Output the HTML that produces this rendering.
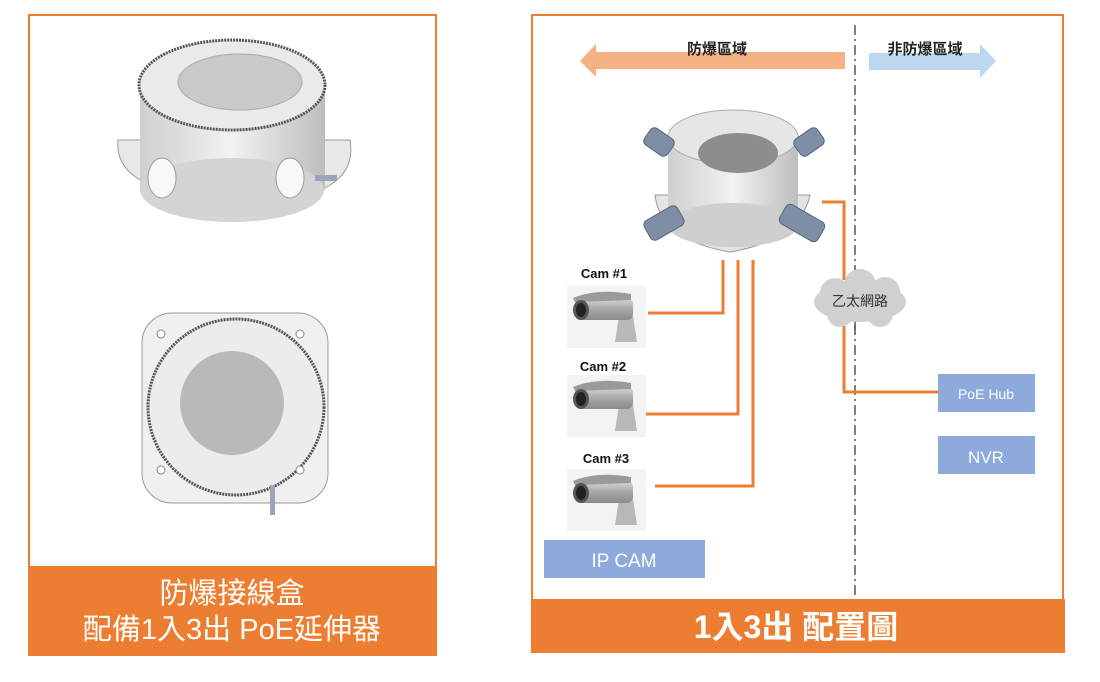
<!DOCTYPE html>
<html><head><meta charset="utf-8"><style>
html,body{margin:0;padding:0;background:#fff;}
svg{display:block;font-family:"Liberation Sans","Noto Sans CJK TC",sans-serif;}
</style></head><body>
<svg width="1100" height="682" viewBox="0 0 1100 682" xmlns="http://www.w3.org/2000/svg">
<defs>
<linearGradient id="metal" x1="0" x2="1">
<stop offset="0" stop-color="#cfcfcf"/><stop offset="0.5" stop-color="#f2f2f2"/><stop offset="1" stop-color="#bdbdbd"/>
</linearGradient>
<linearGradient id="cam" x1="0" y1="0" x2="0" y2="1">
<stop offset="0" stop-color="#d8d8d8"/><stop offset="0.5" stop-color="#a8a8a8"/><stop offset="1" stop-color="#8a8a8a"/>
</linearGradient>
<g id="camera">
<rect x="0" y="0" width="79" height="62" fill="#f3f3f3"/>
<path d="M52 30 L66 30 L70 56 L48 56 Z" fill="#b8b8b8"/>
<rect x="8" y="12" width="58" height="22" rx="6" fill="url(#cam)"/>
<path d="M6 12 Q30 2 64 8 L64 14 L8 16 Z" fill="#9a9a9a"/>
<ellipse cx="14" cy="24" rx="8" ry="10" fill="#555"/>
<ellipse cx="14" cy="24" rx="5" ry="7" fill="#222"/>
</g>
</defs>

<!-- LEFT PANEL -->
<rect x="29" y="15" width="407" height="553" fill="#fff" stroke="#ED7D31" stroke-width="2"/>
<rect x="28" y="566" width="409" height="90" fill="#ED7D31"/>
<text x="232" y="603" fill="#fff" font-size="29" text-anchor="middle">防爆接線盒</text>
<text x="232" y="639" fill="#fff" font-size="29" text-anchor="middle">配備1入3出 PoE延伸器</text>

<!-- top box image -->
<g>
<path d="M118 140 Q115 170 150 185 L190 215 Q230 228 280 215 L330 185 Q355 170 350 140 Z" fill="#e8e8e8" stroke="#999"/>
<rect x="140" y="85" width="185" height="105" fill="url(#metal)"/>
<ellipse cx="232" cy="190" rx="92" ry="32" fill="#d4d4d4"/>
<ellipse cx="232" cy="85" rx="93" ry="45" fill="#eaeaea" stroke="#555" stroke-width="3" stroke-dasharray="2 1"/>
<ellipse cx="240" cy="82" rx="62" ry="28" fill="#c9c9c9" stroke="#aaa"/>
<ellipse cx="162" cy="178" rx="14" ry="20" fill="#f8f8f8" stroke="#999"/>
<ellipse cx="290" cy="178" rx="14" ry="20" fill="#f8f8f8" stroke="#999"/>
<rect x="315" y="175" width="22" height="6" fill="#9aa6b8"/>
</g>
<!-- bottom box image -->
<g>
<rect x="142" y="313" width="186" height="190" rx="30" fill="#f0f0f0" stroke="#999"/>
<circle cx="236" cy="407" r="88" fill="#ececec" stroke="#555" stroke-width="3" stroke-dasharray="2 1"/>
<circle cx="232" cy="403" r="52" fill="#b9b9b9"/>
<circle cx="161" cy="334" r="4" fill="#fff" stroke="#888"/>
<circle cx="300" cy="334" r="4" fill="#fff" stroke="#888"/>
<circle cx="161" cy="470" r="4" fill="#fff" stroke="#888"/>
<circle cx="300" cy="470" r="4" fill="#fff" stroke="#888"/>
<rect x="270" y="485" width="5" height="30" fill="#9aa6b8"/>
</g>

<!-- RIGHT PANEL -->
<rect x="532" y="15" width="531" height="586" fill="#fff" stroke="#ED7D31" stroke-width="2"/>
<rect x="531" y="599" width="534" height="54" fill="#ED7D31"/>
<text x="796" y="638" fill="#fff" font-size="32" font-weight="bold" text-anchor="middle">1入3出 配置圖</text>

<line x1="855" y1="25" x2="855" y2="599" stroke="#555" stroke-width="1.5" stroke-dasharray="10 4 2 4"/>

<polygon points="580,61 596,44 596,52 845,52 845,69 596,69 596,77" fill="#F4B183"/>
<polygon points="869,53 980,53 980,44 996,61 980,78 980,70 869,70" fill="#BDD7EE"/>
<text x="717" y="54" font-size="15" font-weight="bold" fill="#222" text-anchor="middle">防爆區域</text>
<text x="925" y="54" font-size="15" font-weight="bold" fill="#222" text-anchor="middle">非防爆區域</text>

<!-- junction box w/ glands -->
<g>
<path d="M655 195 Q660 240 730 252 Q800 240 810 195 Z" fill="#e4e4e4" stroke="#999"/>
<rect x="668" y="135" width="130" height="90" fill="url(#metal)"/>
<ellipse cx="733" cy="225" rx="65" ry="22" fill="#cfcfcf"/>
<ellipse cx="733" cy="137" rx="65" ry="27" fill="#e6e6e6" stroke="#aaa"/>
<ellipse cx="738" cy="153" rx="40" ry="20" fill="#8d8d8d"/>
<g fill="#7e8ea4" stroke="#56637a">
<rect x="645" y="132" width="28" height="20" rx="5" transform="rotate(35 659 142)"/>
<rect x="795" y="132" width="28" height="20" rx="5" transform="rotate(-35 809 142)"/>
<rect x="645" y="212" width="38" height="22" rx="5" transform="rotate(-30 664 223)"/>
<rect x="780" y="212" width="44" height="22" rx="5" transform="rotate(30 802 223)"/>
</g>
</g>

<!-- wires -->
<g fill="none" stroke="#ED7D31" stroke-width="3">
<polyline points="723,260 723,313 648,313"/>
<polyline points="738,260 738,414 646,414"/>
<polyline points="753,260 753,486 655,486"/>
<polyline points="822,202 844,202 844,280"/>
<polyline points="844,326 844,392 938,392"/>
</g>
<line x1="855" y1="280" x2="855" y2="330" stroke="#555" stroke-width="1.5"/>

<!-- cloud -->
<g fill="#d0d0d0">
<ellipse cx="860" cy="302" rx="46" ry="20"/>
<circle cx="835" cy="293" r="15"/><circle cx="860" cy="285" r="16"/><circle cx="885" cy="292" r="15"/>
<circle cx="840" cy="314" r="13"/><circle cx="880" cy="314" r="13"/>
</g>
<text x="860" y="306" font-size="14" fill="#333" text-anchor="middle">乙太網路</text>

<!-- cameras -->
<text x="604" y="278" font-size="13" font-weight="bold" fill="#111" text-anchor="middle">Cam #1</text>
<use href="#camera" x="567" y="286"/>
<text x="603" y="371" font-size="13" font-weight="bold" fill="#111" text-anchor="middle">Cam #2</text>
<use href="#camera" x="567" y="375"/>
<text x="606" y="463" font-size="13" font-weight="bold" fill="#111" text-anchor="middle">Cam #3</text>
<use href="#camera" x="567" y="469"/>

<rect x="544" y="540" width="161" height="38" fill="#8EA9DB"/>
<text x="624" y="567" font-size="19" fill="#fff" text-anchor="middle">IP CAM</text>
<rect x="938" y="374" width="97" height="38" fill="#8EA9DB"/>
<text x="986" y="399" font-size="14" fill="#fff" text-anchor="middle">PoE Hub</text>
<rect x="938" y="436" width="97" height="38" fill="#8EA9DB"/>
<text x="986" y="463" font-size="17" fill="#fff" text-anchor="middle">NVR</text>
</svg>
</body></html>
